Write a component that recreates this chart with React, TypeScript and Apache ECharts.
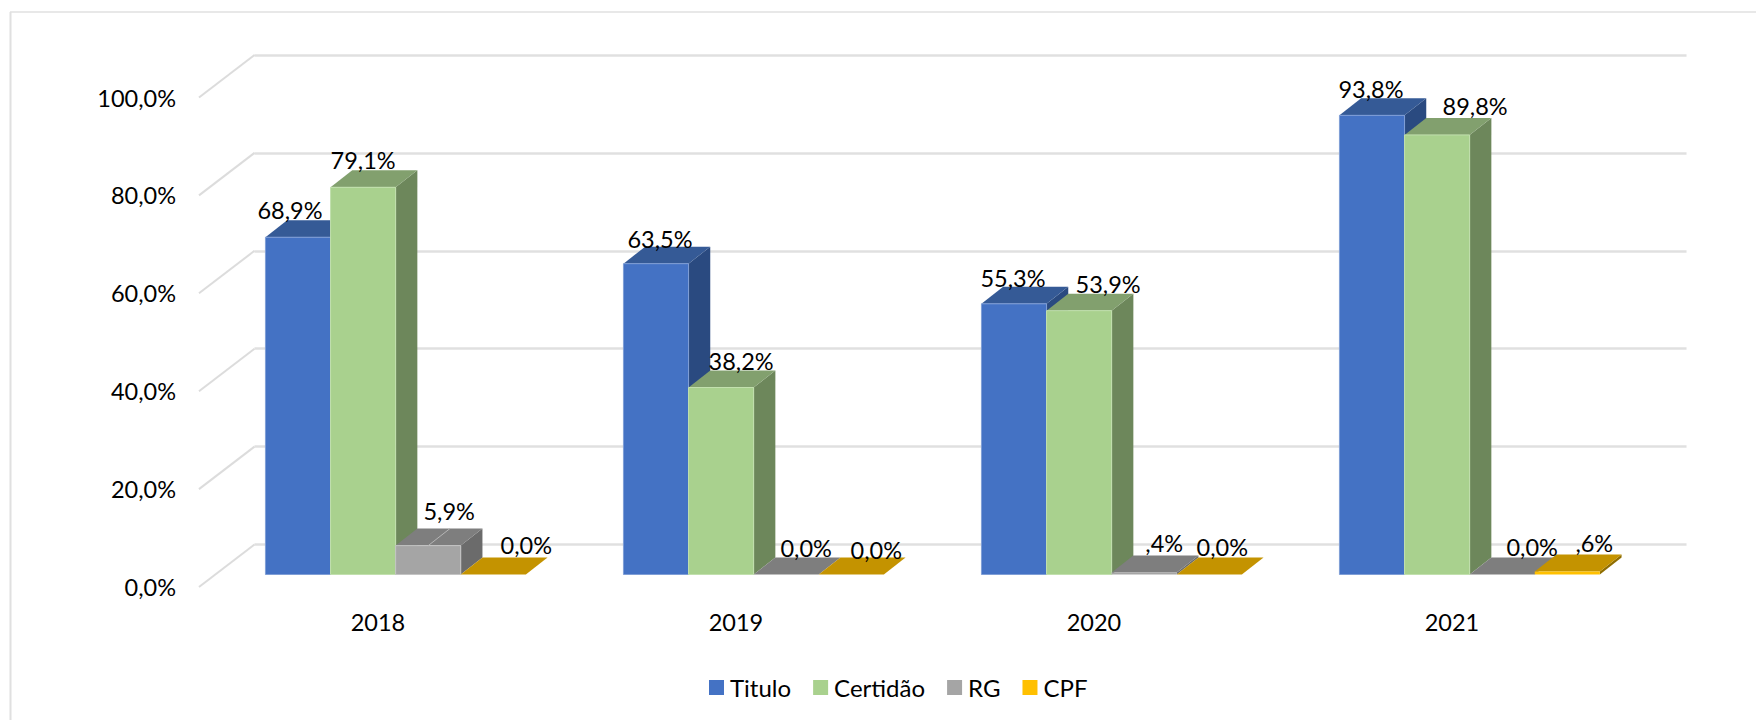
import React, { useEffect, useRef } from "react";
import * as echarts from "echarts";

const years = ["2018", "2019", "2020", "2021"];
const seriesNames = ["Titulo", "Certidão", "RG", "CPF"];
const titulo = [68.9, 63.5, 55.3, 93.8];
const certidao = [79.1, 38.2, 53.9, 89.8];
const rg = [5.9, 0, 0.4, 0];
const cpf = [0, 0, 0, 0.6];
const yTicks = [0, 20, 40, 60, 80, 100];

const seriesValues = [titulo, certidao, rg, cpf];

// Layout and style, kept apart from the data.
const palette = [
  { front: "#4472C4", top: "#355A96", side: "#2A4A80", edge: "#7f9ed6" },
  { front: "#A9D18E", top: "#82A06E", side: "#6D875B", edge: "#c2e0ae" },
  { front: "#A5A5A5", top: "#7E7E7E", side: "#6B6B6B", edge: "#c4c4c4" },
  { front: "#FFC000", top: "#C49300", side: "#8F6D00", edge: "#ffc000" },
];
// Label placement: [dx from bar centre, dy from rear top edge], per series then per year.
const labelNudge = [
  [[-8, -10], [4, -8], [-1, -9], [-1, -9]],
  [[0, -10], [20, -10], [29, -10], [38, -11.5]],
  [[21, -18], [20, -10], [20, -13], [30, -11]],
  [[33, -13], [25, -8], [13, -11], [27, -12]],
];

const FONT = "Lato";
const FS = 23.5;
const BAND = 358;
const PLOT_H = 489.5;
const BAR_FRAC = 65.1 / BAND;
const CUBE_DX = 21.7;
const CUBE_DY = 17;
const WALL_DX = 55.5;
const WALL_DY = 42.5;
const GRID_COLOR = "#e0e0e0";

const fmt = (v: number) => {
  const s = v.toFixed(1).replace(".", ",");
  return v > 0 && v < 1 ? s.slice(1) + "%" : s + "%";
};

function barGeometry(api: any, sIdx: number) {
  const cat = api.value(0);
  const val = api.value(1);
  const [cx, y1] = api.coord([cat, val]);
  const [, y0] = api.coord([cat, 0]);
  const w = api.size([1, 0])[0] * BAR_FRAC;
  const x0 = cx + (sIdx - 2) * w;
  return { x0, x1: x0 + w, y0, y1, w };
}

function renderCube(sIdx: number) {
  return (_: any, api: any) => {
    const { x0, x1, y0, y1 } = barGeometry(api, sIdx);
    const c = palette[sIdx];
    const children: any[] = [];
    const h = y0 - y1;
    if (h >= 0.5) {
      children.push({
        type: "polygon",
        shape: { points: [[x1, y1], [x1 + CUBE_DX, y1 - CUBE_DY], [x1 + CUBE_DX, y0 - CUBE_DY], [x1, y0]] },
        style: { fill: c.side },
      });
    }
    children.push({
      type: "polygon",
      shape: { points: [[x0, y1], [x0 + CUBE_DX, y1 - CUBE_DY], [x1 + CUBE_DX, y1 - CUBE_DY], [x1, y1]] },
      style: { fill: c.top },
    });
    if (h >= 0.5) {
      children.push({
        type: "rect",
        shape: { x: x0, y: y1, width: x1 - x0, height: h },
        style: h > 6 ? { fill: c.front, stroke: c.edge, lineWidth: 1 } : { fill: c.front },
      });
    }
    // The tall grey block shows a faint seam across its top face.
    if (sIdx === 2 && h > 6) {
      const mx = (x0 + x1) / 2;
      children.push({
        type: "line",
        shape: { x1: mx, y1, x2: mx + CUBE_DX, y2: y1 - CUBE_DY },
        style: { stroke: "#b5b5b5", lineWidth: 1 },
      });
    }
    return { type: "group", children };
  };
}

function buildOption() {
  const cubeSeries = seriesNames.map((name, s) => ({
    type: "custom",
    name,
    xAxisIndex: 2,
    yAxisIndex: 2,
    itemStyle: { color: palette[s].front },
    z: 3,
    silent: true,
    encode: { x: 0, y: 1 },
    data: seriesValues[s].map((v, i) => [i, v]),
    renderItem: renderCube(s),
  }));
  const labelSeries = seriesNames.map((name, s) => ({
    type: "custom",
    name: name + " rótulo",
    xAxisIndex: 2,
    yAxisIndex: 2,
    z: 6,
    silent: true,
    encode: { x: 0, y: 1 },
    data: seriesValues[s].map((v, i) => [i, v]),
    renderItem: (_: any, api: any) => {
      const { x0, x1, y1 } = barGeometry(api, s);
      const i = api.value(0);
      const [dx, dy] = labelNudge[s][i];
      return {
        type: "text",
        x: (x0 + x1) / 2 + dx,
        y: y1 - CUBE_DY + dy,
        style: {
          text: fmt(api.value(1)),
          fill: "#000000",
          font: `${FS}px ${FONT}`,
          align: "center",
          verticalAlign: "middle",
        },
      };
    },
  }));
  const diagSeries = {
    type: "custom",
    name: "linhas",
    xAxisIndex: 1,
    yAxisIndex: 1,
    z: 1,
    silent: true,
    encode: { x: 0, y: 1 },
    data: yTicks.map((t) => [0, t]),
    renderItem: (params: any, api: any) => {
      const [, y] = api.coord([0, api.value(1)]);
      const x = params.coordSys.x;
      return {
        type: "line",
        shape: { x1: x, y1: y, x2: x - WALL_DX, y2: y + WALL_DY },
        style: { stroke: "#dcdcdc", lineWidth: 2 },
      };
    },
  };

  const yBase = { type: "value", min: 0, max: 100, interval: 20, axisLine: { show: false }, axisTick: { show: false } };
  const xBase = { type: "category", data: years, axisLine: { show: false }, axisTick: { show: false } };

  return {
    animation: false,
    backgroundColor: "#ffffff",
    textStyle: { fontFamily: FONT },
    grid: [
      { left: 199, top: 97.5, width: BAND * 4, height: PLOT_H },
      { left: 254.5, top: 55, width: BAND * 4, height: PLOT_H },
      { left: 216.65, top: 85, width: BAND * 4, height: PLOT_H },
    ],
    xAxis: [
      {
        ...xBase,
        gridIndex: 0,
        axisLabel: { color: "#000", fontFamily: FONT, fontSize: FS, margin: 23 },
      },
      { ...xBase, gridIndex: 1, axisLabel: { show: false } },
      { ...xBase, gridIndex: 2, axisLabel: { show: false } },
    ],
    yAxis: [
      {
        ...yBase,
        gridIndex: 0,
        splitLine: { show: false },
        axisLabel: {
          color: "#000",
          fontFamily: FONT,
          fontSize: FS,
          margin: 23,
          formatter: (v: number) => v.toFixed(1).replace(".", ",") + "%",
        },
      },
      {
        ...yBase,
        gridIndex: 1,
        axisLabel: { show: false },
        splitLine: { show: true, lineStyle: { color: GRID_COLOR, width: 2.5 } },
      },
      { ...yBase, gridIndex: 2, axisLabel: { show: false }, splitLine: { show: false } },
    ],
    legend: {
      data: seriesNames,
      left: 709,
      top: 675.5,
      padding: 0,
      icon: "rect",
      itemWidth: 15,
      itemHeight: 15,
      itemGap: 22,
      selectedMode: false,
      textStyle: { color: "#000", fontFamily: FONT, fontSize: 24, padding: [0, 0, 0, 1] },
    },
    graphic: [
      { type: "line", shape: { x1: 10.5, y1: 12, x2: 10.5, y2: 720 }, style: { stroke: "#e0e0e0", lineWidth: 2 }, silent: true },
      { type: "line", shape: { x1: 10, y1: 12, x2: 1756, y2: 12 }, style: { stroke: "#e0e0e0", lineWidth: 1.5 }, silent: true },
    ],
    series: [diagSeries, ...cubeSeries, ...labelSeries],
  };
}

export default function App() {
  const ref = useRef<HTMLDivElement>(null);
  useEffect(() => {
    const chart = echarts.init(ref.current!, undefined, { renderer: "svg" });
    chart.setOption(buildOption() as any);
    return () => chart.dispose();
  }, []);
  return <div ref={ref} style={{ position: "fixed", left: 0, top: 0, width: 1756, height: 720 }} />;
}
